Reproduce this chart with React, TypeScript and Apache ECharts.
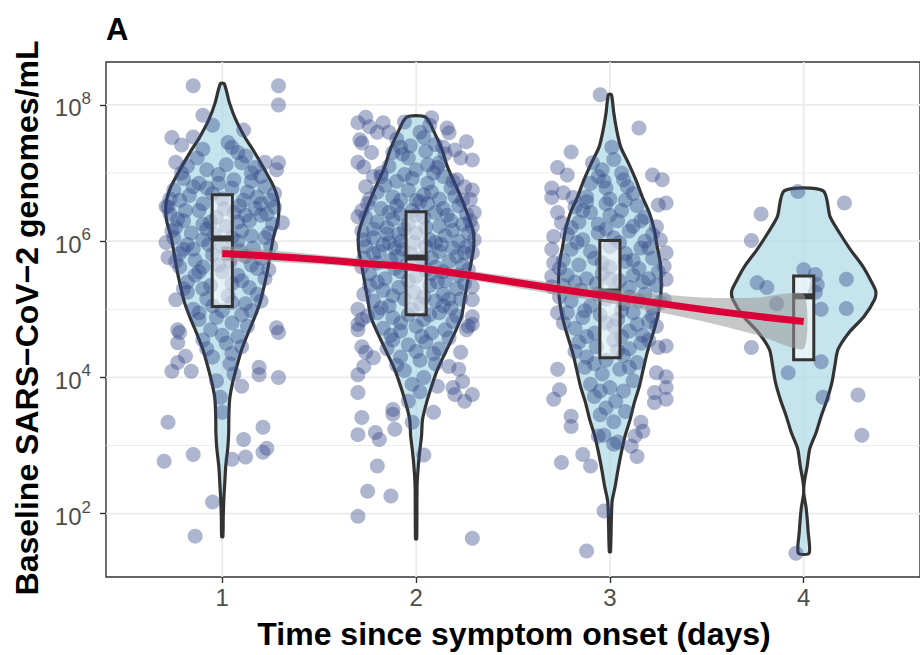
import React, { useEffect, useRef } from "react";
import * as echarts from "echarts";

// ---------- data ----------
const days = [1, 2, 3, 4];
const xTickValues = [1, 2, 3, 4];
const yTickValues = [2, 4, 6, 8]; // log10 of genomes/mL
const yMinorValues = [3, 5, 7];
const xLimits = [0.4, 4.6];
const yLimits = [1.07, 8.63];

const boxQ1 = [5.04, 4.92, 4.29, 4.26];
const boxMedian = [6.04, 5.76, 5.26, 5.19];
const boxQ3 = [6.68, 6.43, 6.01, 5.49];

// violin outlines: [log10 value, half width in day units], bottom to top
const violinDay1: [number, number][] = [[1.66,0.003],[1.96,0.005],[2.21,0.008],[2.46,0.013],[2.70,0.018],[2.95,0.028],[3.19,0.033],[3.43,0.034],[3.68,0.038],[3.93,0.054],[4.16,0.075],[4.41,0.10],[4.66,0.134],[4.87,0.165],[5.10,0.195],[5.33,0.215],[5.58,0.234],[5.83,0.249],[6.07,0.265],[6.31,0.288],[6.56,0.29],[6.80,0.265],[7.05,0.218],[7.30,0.167],[7.53,0.116],[7.78,0.07],[8.03,0.037],[8.31,0.01]];
const violinDay2: [number, number][] = [[1.63,0.003],[2.40,0.005],[2.65,0.01],[2.90,0.018],[3.14,0.028],[3.38,0.033],[3.63,0.054],[3.87,0.08],[4.12,0.111],[4.37,0.152],[4.66,0.20],[4.89,0.234],[5.14,0.249],[5.39,0.265],[5.63,0.28],[5.88,0.296],[6.12,0.296],[6.36,0.27],[6.61,0.236],[6.86,0.198],[7.09,0.162],[7.34,0.134],[7.59,0.095],[7.82,0.049]];
const violinDay3: [number, number][] = [[1.44,0.003],[2.17,0.011],[2.40,0.027],[2.65,0.042],[2.90,0.059],[3.14,0.078],[3.38,0.104],[3.63,0.126],[3.87,0.152],[4.12,0.172],[4.37,0.193],[4.70,0.228],[4.95,0.25],[5.19,0.262],[5.44,0.265],[5.68,0.26],[5.92,0.244],[6.17,0.229],[6.42,0.203],[6.65,0.167],[6.90,0.134],[7.15,0.095],[7.38,0.056],[7.63,0.035],[7.88,0.02],[8.15,0.008]];
const violinDay4: [number, number][] = [[1.42,0.028],[1.73,0.023],[2.07,0.013],[2.31,0.0],[2.46,0.003],[2.70,0.018],[2.95,0.031],[3.19,0.064],[3.43,0.09],[3.68,0.121],[3.93,0.146],[4.16,0.16],[4.41,0.177],[4.66,0.234],[4.89,0.31],[5.14,0.365],[5.26,0.372],[5.39,0.352],[5.63,0.305],[5.88,0.24],[6.12,0.185],[6.36,0.136],[6.74,0.10]];

// jittered observations: [x offset from day, log10 value]
const pointsDay1: [number, number][] = [
  [-0.15,8.28],[0.29,8.28],[0.29,8.0],[-0.10,7.85],[-0.26,7.52],[-0.21,7.41],[-0.15,7.53],[0.11,7.63],[-0.24,7.16],[0.22,7.16],[0.29,7.15],[0.28,7.05],[-0.29,6.51],[0.31,6.27],[-0.29,5.98],[-0.28,5.76],[-0.24,5.14],[-0.23,4.70],[-0.22,4.66],[-0.23,4.51],[-0.19,4.31],[-0.23,4.22],[-0.26,4.09],[-0.16,4.09],[0.28,4.73],[0.29,4.66],[0.19,4.15],[0.19,4.04],[0.29,4.00],[0.10,3.87],[-0.01,3.71],[0.0,3.49],[-0.28,3.34],[0.21,3.27],[0.11,3.09],[-0.30,2.77],[-0.15,2.87],[0.05,2.80],[0.12,2.83],[0.21,2.90],[0.23,2.96],[-0.05,2.17],[-0.14,1.67],
  [-0.05,7.7],[0.03,7.45],[-0.1,7.35],[0.08,7.3],[0.12,7.25],
  [-0.18,7.1],[-0.08,7.05],[0.02,7.12],[0.15,7.0],[0.2,6.95],[-0.2,6.92],[0.06,6.9],[-0.12,6.85],[-0.02,6.98],[0.1,7.15],
  [-0.25,6.75],[-0.15,6.8],[-0.05,6.7],[0.05,6.78],[0.13,6.72],[0.22,6.8],[0.25,6.6],[-0.22,6.6],[-0.1,6.55],[0.0,6.62],[0.09,6.52],[0.18,6.65],[-0.28,6.5],[0.27,6.5],[-0.17,6.67],[-0.02,6.85],[0.15,6.88],
  [-0.27,6.4],[-0.2,6.3],[-0.12,6.45],[-0.03,6.35],[0.06,6.42],[0.14,6.3],[0.2,6.38],[0.26,6.25],[-0.24,6.2],[-0.08,6.18],[0.02,6.22],[0.1,6.15],[0.24,6.12],[-0.16,6.12],[0.17,6.48],[-0.06,6.28],
  [-0.25,6.05],[-0.18,5.95],[-0.1,6.02],[0.0,5.92],[0.08,6.0],[0.16,5.9],[0.22,6.05],[-0.22,5.82],[-0.05,5.8],[0.12,5.78],[0.2,5.75],[-0.14,5.72],[0.04,5.7],[-0.2,5.88],
  [-0.22,5.62],[-0.12,5.55],[-0.02,5.65],[0.08,5.5],[0.18,5.6],[0.22,5.45],[-0.18,5.4],[-0.06,5.35],[0.05,5.38],[0.14,5.32],[-0.14,5.5],
  [-0.18,5.25],[-0.08,5.15],[0.03,5.2],[0.12,5.08],[0.18,5.22],[-0.15,5.0],[0.0,4.98],[0.1,4.92],[-0.05,5.05],
  [-0.12,4.85],[0.05,4.8],[0.13,4.75],[-0.06,4.7],[0.08,4.6],[-0.1,4.55],[0.02,4.5],[0.1,4.45],
  [-0.05,4.3],[0.04,4.2],[0.06,4.05],[-0.03,3.95],
  [-0.21,7.0],[0.17,7.08],[-0.13,7.22],[0.05,7.38],[-0.27,6.62],[0.11,6.6],[-0.08,6.78],[0.27,6.7],[0.2,6.55],[-0.19,6.45],[0.01,6.48],[0.12,6.38],[-0.23,6.32],[0.23,6.4],[-0.1,6.25],[0.08,6.28],[-0.04,6.1],[0.15,6.08],[-0.26,6.15],[0.05,6.05],[-0.15,5.88],[0.09,5.86],[0.25,5.92],[-0.07,5.95],[-0.24,5.7],[0.15,5.65],[0.0,5.55],[-0.1,5.62],[0.24,5.58],[-0.2,5.3],[0.1,5.42],[0.2,5.12],[-0.1,5.3],[0.05,5.1],[-0.12,4.95],[0.15,4.98],[-0.03,4.88],[0.0,4.62],[-0.08,4.42],[0.05,4.35]
];
const pointsDay2: [number, number][] = [
  [-0.26,7.82],[-0.30,7.74],[-0.24,7.68],[-0.17,7.74],[-0.14,7.60],[-0.29,7.49],[-0.28,7.44],[-0.23,7.30],[-0.30,7.16],[-0.27,7.09],[-0.22,6.95],[-0.26,6.80],[-0.30,6.36],
  [0.08,7.81],[0.16,7.66],[0.17,7.59],[0.26,7.46],[0.14,7.38],[0.20,7.34],[0.23,7.22],[0.29,7.19],[0.21,6.90],[0.25,6.80],[0.29,6.75],[0.28,6.61],[0.30,6.42],[0.29,6.21],[0.30,6.02],[0.29,5.83],[0.29,5.33],[0.29,5.14],[0.29,4.89],[0.26,4.70],
  [-0.30,5.00],[-0.28,4.85],[-0.30,4.70],[-0.30,4.78],[-0.28,4.45],[-0.26,4.37],[-0.22,4.29],[-0.27,4.16],[-0.30,4.04],[-0.30,3.78],[-0.28,3.41],[-0.30,3.16],[-0.21,3.19],[-0.19,3.09],[-0.12,3.53],[-0.12,3.46],[-0.11,3.24],[-0.20,2.70],[-0.25,2.33],[-0.13,2.26],[-0.30,1.96],[0.29,1.64],[0.09,3.49],[0.04,2.86],
  [0.29,4.78],[0.23,4.37],[0.17,4.16],[0.22,4.12],[0.24,3.94],[0.19,3.85],[0.20,3.75],[0.25,3.65],[0.29,3.75],[0.27,4.75],[0.11,3.87],[0.02,3.79],[-0.04,3.65],[-0.02,3.34],
  [-0.06,7.75],[0.02,7.6],[0.07,7.7],[-0.1,7.5],[0.1,7.42],[-0.03,7.4],
  [-0.12,7.3],[-0.04,7.22],[0.05,7.32],[0.12,7.15],[-0.14,7.1],[0.0,7.05],[0.09,7.0],[-0.08,7.38],[0.15,7.28],
  [-0.18,6.95],[-0.1,6.88],[-0.02,6.92],[0.06,6.85],[0.14,6.95],[0.18,6.78],[-0.2,6.72],[-0.12,6.65],[-0.04,6.75],[0.04,6.68],[0.12,6.62],[0.2,6.66],[-0.16,6.82],[0.0,6.6],
  [-0.25,6.55],[-0.18,6.48],[-0.1,6.52],[-0.02,6.45],[0.06,6.55],[0.14,6.48],[0.22,6.52],[0.26,6.4],[-0.26,6.35],[-0.2,6.28],[-0.12,6.32],[-0.04,6.25],[0.04,6.35],[0.12,6.22],[0.18,6.3],[0.24,6.25],[-0.08,6.4],[0.1,6.42],[-0.15,6.2],[0.02,6.58],
  [-0.28,6.15],[-0.22,6.05],[-0.15,6.1],[-0.08,6.0],[0.0,6.12],[0.07,6.02],[0.15,6.08],[0.22,6.0],[0.27,6.12],[-0.26,5.92],[-0.19,5.85],[-0.11,5.9],[-0.03,5.82],[0.05,5.92],[0.12,5.85],[0.19,5.9],[0.25,5.83],[-0.06,6.18],[0.1,5.98],[-0.14,5.98],
  [-0.27,5.75],[-0.2,5.68],[-0.13,5.72],[-0.05,5.65],[0.03,5.75],[0.1,5.62],[0.17,5.7],[0.24,5.65],[-0.24,5.52],[-0.16,5.45],[-0.08,5.55],[0.0,5.48],[0.08,5.52],[0.15,5.42],[0.22,5.5],[-0.1,5.78],[0.05,5.58],
  [-0.24,5.35],[-0.17,5.28],[-0.09,5.32],[-0.01,5.25],[0.07,5.35],[0.14,5.22],[0.21,5.3],[-0.22,5.12],[-0.14,5.05],[-0.06,5.15],[0.02,5.08],[0.1,5.12],[0.18,5.02],[0.23,5.15],
  [-0.2,4.95],[-0.12,4.88],[-0.04,4.92],[0.04,4.85],[0.12,4.95],[0.19,4.82],[-0.17,4.72],[-0.08,4.68],[0.0,4.75],[0.08,4.65],[0.15,4.7],
  [-0.12,4.55],[-0.04,4.48],[0.05,4.52],[0.12,4.42],[-0.08,4.3],[0.02,4.25],[0.09,4.35],
  [-0.06,4.1],[0.04,4.0],[-0.02,3.9],
  [-0.2,7.6],[0.04,7.52],[-0.07,7.28],[0.11,7.08],[-0.18,7.0],[-0.06,6.98],[0.06,7.12],[0.19,6.88],[-0.24,6.62],[-0.08,6.6],[0.08,6.72],[0.24,6.6],[-0.28,6.45],[-0.14,6.42],[0.0,6.38],[0.16,6.38],[0.28,6.3],[-0.22,6.18],[-0.09,6.1],[0.05,6.2],[0.19,6.16],[-0.27,6.02],[-0.17,5.95],[-0.01,5.98],[0.13,5.95],[0.26,5.92],[-0.22,5.82],[-0.07,5.88],[0.08,5.76],[0.21,5.78],[-0.28,5.62],[-0.11,5.6],[0.02,5.66],[0.14,5.55],[0.27,5.58],[-0.2,5.4],[-0.04,5.42],[0.11,5.4],[0.25,5.38],[-0.27,5.22],[-0.12,5.2],[0.04,5.18],[0.17,5.15],[-0.18,5.02],[-0.02,5.0],[0.14,5.05],[-0.25,4.9],[-0.08,4.8],[0.07,4.92],[0.21,4.9],[-0.13,4.62],[0.03,4.6],[0.17,4.58],[-0.15,4.42],[0.0,4.38],[0.1,4.2],[-0.1,4.18]
];
const pointsDay3: [number, number][] = [
  [-0.05,8.15],[0.15,7.66],[-0.20,7.31],[-0.27,7.08],[-0.22,6.97],[-0.09,7.15],[-0.30,6.78],[-0.30,6.64],[-0.24,6.71],[-0.19,6.64],[-0.27,6.42],[-0.25,6.27],[-0.29,6.07],[-0.30,5.88],[-0.29,5.68],[-0.30,5.48],[-0.30,5.33],[-0.27,4.95],
  [0.22,6.97],[0.27,6.90],[0.25,6.53],[0.29,6.56],[0.24,6.21],[0.26,6.02],[0.29,5.83],[0.28,5.63],[0.29,5.44],[0.28,5.14],[0.24,4.75],[0.01,7.38],
  [-0.27,4.12],[-0.26,3.82],[-0.29,3.68],[-0.20,3.43],[-0.20,3.28],[-0.25,2.75],[-0.14,2.87],[-0.10,2.70],[-0.03,2.04],[-0.12,1.45],
  [0.25,4.44],[0.29,4.46],[0.24,4.07],[0.29,4.01],[0.23,3.78],[0.29,3.85],[0.29,3.68],[0.23,3.63],[0.16,3.34],[0.17,3.21],[0.13,3.14],[0.14,2.84],[0.11,2.99],[0.02,3.02],[-0.06,3.14],
  [0.02,7.2],[-0.04,7.05],[0.06,7.0],
  [-0.1,6.85],[-0.02,6.78],[0.07,6.9],[0.12,6.7],[-0.12,6.65],[0.0,6.62],[-0.06,6.95],
  [-0.18,6.5],[-0.1,6.42],[-0.02,6.55],[0.06,6.45],[0.14,6.52],[0.18,6.35],[-0.16,6.28],[-0.06,6.25],[0.04,6.3],[0.12,6.22],[-0.12,6.58],
  [-0.22,6.1],[-0.14,6.02],[-0.06,6.12],[0.02,6.05],[0.1,6.15],[0.18,6.0],[0.22,6.1],[-0.2,5.88],[-0.1,5.85],[0.0,5.92],[0.08,5.82],[0.16,5.9],
  [-0.24,5.72],[-0.16,5.65],[-0.08,5.75],[0.0,5.62],[0.08,5.7],[0.15,5.6],[0.22,5.75],[-0.22,5.5],[-0.12,5.45],[-0.04,5.52],[0.05,5.42],[0.12,5.5],[0.2,5.45],
  [-0.24,5.35],[-0.15,5.28],[-0.07,5.38],[0.02,5.25],[0.1,5.32],[0.18,5.22],[0.24,5.35],[-0.2,5.12],[-0.1,5.05],[-0.02,5.15],[0.07,5.08],[0.15,5.12],[0.22,5.02],
  [-0.22,4.95],[-0.14,4.88],[-0.05,4.92],[0.04,4.85],[0.12,4.95],[0.2,4.82],[-0.18,4.72],[-0.08,4.65],[0.02,4.75],[0.1,4.68],[0.17,4.62],
  [-0.16,4.52],[-0.07,4.45],[0.02,4.55],[0.1,4.42],[0.16,4.5],[-0.12,4.3],[-0.02,4.25],[0.07,4.32],[0.14,4.22],
  [-0.13,4.15],[-0.04,4.05],[0.05,4.12],[0.12,3.95],[-0.1,3.9],[0.0,3.85],
  [-0.08,3.72],[0.03,3.65],[0.08,3.5],[-0.05,3.45],[0.02,3.35],
  [-0.03,3.15],[0.04,3.05],
  [-0.03,6.88],[0.09,6.8],[-0.14,6.45],[0.08,6.6],[0.0,6.38],[-0.2,6.2],[-0.02,6.18],[0.16,6.3],[-0.17,5.98],[0.05,5.98],[0.2,5.9],[-0.26,5.6],[-0.04,5.68],[0.12,5.72],[0.25,5.55],[-0.18,5.4],[0.0,5.45],[0.17,5.4],[-0.26,5.18],[-0.06,5.22],[0.1,5.18],[0.26,5.1],[-0.13,4.98],[0.06,4.98],[0.22,4.9],[-0.24,4.8],[-0.02,4.8],[0.14,4.78],[-0.12,4.6],[0.06,4.6],[0.2,4.55],[-0.18,4.38],[0.04,4.4],[-0.08,4.2],[0.1,4.15],[-0.05,3.8],[0.07,3.8],[-0.02,3.55]
];
const pointsDay4: [number, number][] = [
  [-0.03,6.73],[0.21,6.56],[-0.22,6.40],[-0.27,6.01],[-0.24,5.39],[-0.19,5.32],[-0.14,5.08],[0.0,5.58],[0.06,5.51],[0.07,5.36],[0.06,5.25],[0.22,5.44],[0.22,5.01],[0.09,5.00],[-0.27,4.44],[-0.08,4.07],[0.09,4.23],[0.10,3.71],[0.28,3.74],[0.30,3.15],[-0.04,1.42]
];

const loessX = [1, 1.25, 1.5, 1.75, 2, 2.25, 2.5, 2.75, 3, 3.25, 3.5, 3.75, 4];
const loessFit = [5.82, 5.78, 5.73, 5.67, 5.61, 5.51, 5.40, 5.29, 5.19, 5.09, 4.99, 4.90, 4.82];
const loessSe = [0.10, 0.085, 0.07, 0.065, 0.06, 0.065, 0.075, 0.085, 0.10, 0.13, 0.18, 0.27, 0.40];

const violins = [violinDay1, violinDay2, violinDay3, violinDay4];
const dayPoints = [pointsDay1, pointsDay2, pointsDay3, pointsDay4];

export default function App() {
  const ref = useRef<HTMLDivElement>(null);
  useEffect(() => {
    if (!ref.current) return;
    const chart = echarts.init(ref.current, null, { renderer: "svg" });
    const font = '"Liberation Sans", Arial, Helvetica, sans-serif';
    const ink = "#333333";
    const tickText = "#4D4D4D";
    const boxHalf = 0.052;

    const scatterData: number[][] = [];
    dayPoints.forEach((pts, i) =>
      pts.forEach(([dx, v]) => scatterData.push([days[i] + dx, v]))
    );

    const gridData: number[][] = [
      ...yMinorValues.map((v) => [xLimits[0], v, 1]),
      ...yTickValues.map((v) => [xLimits[0], v, 0]),
      ...xTickValues.map((v) => [v, yLimits[0], 2]),
    ];

    const option: any = {
      animation: false,
      textStyle: { fontFamily: font },
      grid: {
        left: 106,
        top: 62,
        right: -2,
        bottom: 78,
        show: true,
        borderColor: ink,
        borderWidth: 1.4,
        backgroundColor: "transparent",
      },
      xAxis: {
        type: "value",
        min: xLimits[0],
        max: xLimits[1],
        axisLine: { show: false },
        splitLine: { show: false },
        axisTick: {
          show: true,
          customValues: xTickValues,
          length: 6,
          lineStyle: { color: ink, width: 1.4 },
        },
        axisLabel: {
          customValues: xTickValues,
          color: tickText,
          fontSize: 24,
          fontFamily: font,
          margin: 8,
        },
      },
      yAxis: {
        type: "value",
        min: yLimits[0],
        max: yLimits[1],
        axisLine: { show: false },
        splitLine: { show: false },
        axisTick: {
          show: true,
          customValues: yTickValues,
          length: 6,
          lineStyle: { color: ink, width: 1.4 },
        },
        axisLabel: {
          customValues: yTickValues,
          color: tickText,
          fontSize: 24,
          fontFamily: font,
          margin: 15,
          formatter: (v: number) => `{b|10}{sup|${v}}`,
          rich: {
            b: {
              fontSize: 24,
              lineHeight: 30,
              verticalAlign: "bottom",
              color: tickText,
              fontFamily: font,
            },
            sup: {
              fontSize: 17,
              lineHeight: 13,
              verticalAlign: "top",
              color: tickText,
              fontFamily: font,
            },
          },
        },
      },
      graphic: [
        {
          type: "text",
          x: 106,
          y: 29,
          style: {
            text: "A",
            fontSize: 31,
            fontWeight: "bold",
            fontFamily: font,
            fill: "#000",
            align: "left",
            verticalAlign: "middle",
          },
        },
        {
          type: "text",
          x: 514,
          y: 634,
          style: {
            text: "Time since symptom onset (days)",
            fontSize: 32,
            fontWeight: "bold",
            fontFamily: font,
            fill: "#000",
            align: "center",
            verticalAlign: "middle",
          },
        },
        {
          type: "text",
          x: 27,
          y: 318,
          rotation: Math.PI / 2,
          style: {
            text: "Baseline SARS\u2212CoV\u22122 genomes/mL",
            fontSize: 32,
            fontWeight: "bold",
            fontFamily: font,
            fill: "#000",
            align: "center",
            verticalAlign: "middle",
          },
        },
      ],
      series: [
        {
          type: "custom",
          name: "grid",
          z: 1,
          silent: true,
          encode: { x: 0, y: 1 },
          data: gridData,
          renderItem: (_params: any, api: any) => {
            const kind = api.value(2);
            let p1, p2;
            if (kind === 2) {
              const v = api.value(0);
              p1 = api.coord([v, yLimits[0]]);
              p2 = api.coord([v, yLimits[1]]);
            } else {
              const v = api.value(1);
              p1 = api.coord([xLimits[0], v]);
              p2 = api.coord([xLimits[1], v]);
            }
            return {
              type: "line",
              shape: { x1: p1[0], y1: p1[1], x2: p2[0], y2: p2[1] },
              style: { stroke: "#EBEBEB", lineWidth: kind === 1 ? 0.9 : 1.8 },
            };
          },
        },
        {
          type: "custom",
          name: "violin",
          z: 2,
          silent: true,
          encode: { x: 0, y: 1 },
          data: days.map((d, i) => [d, boxMedian[i], i]),
          renderItem: (params: any, api: any) => {
            const i = params.dataIndex;
            const cx = days[i];
            const prof = violins[i];
            const right = prof.map(([v, h]) => api.coord([cx + h, v]));
            const left = prof
              .slice()
              .reverse()
              .map(([v, h]) => api.coord([cx - h, v]));
            return {
              type: "polygon",
              shape: { points: right.concat(left), smooth: 0.25 },
              style: {
                fill: "rgba(173,216,230,0.7)",
                stroke: ink,
                lineWidth: 3.2,
                lineJoin: "round",
              },
            };
          },
        },
        {
          type: "scatter",
          name: "points",
          z: 3,
          silent: true,
          symbolSize: 15,
          itemStyle: { color: "rgba(50,70,135,0.5)" },
          data: scatterData,
        },
        {
          type: "custom",
          name: "box",
          z: 4,
          silent: true,
          encode: { x: 0, y: 1 },
          data: days.map((d, i) => [d, boxMedian[i], i]),
          renderItem: (params: any, api: any) => {
            const i = params.dataIndex;
            const cx = days[i];
            const tl = api.coord([cx - boxHalf, boxQ3[i]]);
            const br = api.coord([cx + boxHalf, boxQ1[i]]);
            const ml = api.coord([cx - boxHalf, boxMedian[i]]);
            const mr = api.coord([cx + boxHalf, boxMedian[i]]);
            return {
              type: "group",
              children: [
                {
                  type: "rect",
                  shape: { x: tl[0], y: tl[1], width: br[0] - tl[0], height: br[1] - tl[1] },
                  style: { fill: "rgba(255,255,255,0.55)", stroke: ink, lineWidth: 3 },
                },
                {
                  type: "line",
                  shape: { x1: ml[0], y1: ml[1], x2: mr[0], y2: mr[1] },
                  style: { stroke: ink, lineWidth: 6 },
                },
              ],
            };
          },
        },
        {
          type: "custom",
          name: "band",
          z: 5,
          silent: true,
          encode: { x: 0, y: 1 },
          data: [[loessX[0], loessFit[0]]],
          renderItem: (_params: any, api: any) => {
            const upper = loessX.map((x, k) => api.coord([x, loessFit[k] + loessSe[k]]));
            const lower = loessX
              .map((x, k) => api.coord([x, loessFit[k] - loessSe[k]]))
              .reverse();
            return {
              type: "polygon",
              shape: { points: upper.concat(lower), smooth: 0.2 },
              style: { fill: "rgba(153,153,153,0.55)" },
            };
          },
        },
        {
          type: "line",
          name: "loess",
          z: 6,
          silent: true,
          symbol: "none",
          smooth: 0.3,
          lineStyle: { color: "#DA0037", width: 7, cap: "butt" },
          data: loessX.map((x, k) => [x, loessFit[k]]),
        },
      ],
    };
    chart.setOption(option);
    return () => chart.dispose();
  }, []);
  return (
    <div
      ref={ref}
      style={{ position: "fixed", left: 0, top: 0, width: 920, height: 655, background: "#fff" }}
    />
  );
}
